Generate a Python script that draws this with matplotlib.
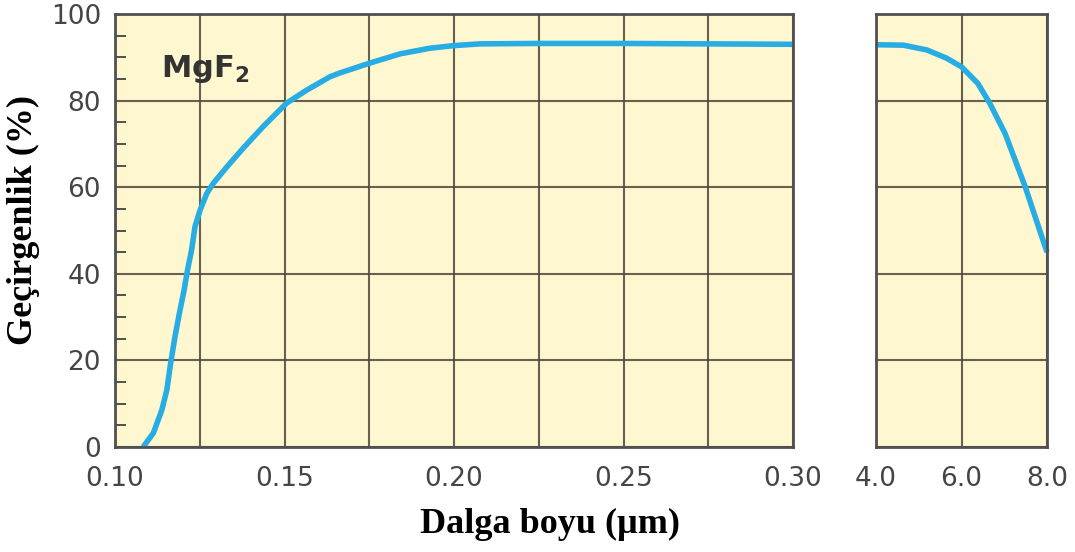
import matplotlib
matplotlib.use('Agg')
import matplotlib.pyplot as plt
import numpy as np

# MgF2 transmission
uv_wl = [0.1083, 0.1113, 0.1138, 0.1153, 0.1164, 0.1177, 0.1190, 0.1204, 0.1214,
         0.1226, 0.1236, 0.1251, 0.1271, 0.1290, 0.1330, 0.1378, 0.1437, 0.1506,
         0.1565, 0.1634, 0.1664, 0.1749, 0.1841, 0.1929, 0.20, 0.2077, 0.225, 0.25,
         0.275, 0.30]
uv_T = [0.0, 3.2, 8.5, 13.2, 19.3, 25.5, 30.9, 36.3, 40.9,
        45.5, 50.9, 54.7, 58.6, 60.9, 64.7, 69.0, 74.0, 79.4,
        82.4, 85.5, 86.4, 88.6, 90.8, 92.1, 92.7, 93.1, 93.2, 93.2,
        93.1, 93.0]

ir_wl = [4.0, 4.64, 5.19, 5.65, 6.0, 6.38, 6.66, 7.02, 7.49, 7.80, 8.0]
ir_T = [92.9, 92.8, 91.7, 89.8, 87.8, 84.0, 79.4, 72.4, 60.1, 50.9, 45.0]

uv_grid = [0.10, 0.125, 0.15, 0.175, 0.20, 0.225, 0.25, 0.275, 0.30]
uv_ticklabels = ['0.10', '', '0.15', '', '0.20', '', '0.25', '', '0.30']
ir_ticks = [4.0, 6.0, 8.0]
ir_ticklabels = ['4.0', '6.0', '8.0']
y_ticks = [0, 20, 40, 60, 80, 100]

bg = '#FEF7D0'
line_c = '#27ADE4'
grid_c = '#4d4838'
spine_c = '#505050'
lab_c = '#454545'

fig = plt.figure(figsize=(10.75, 5.52), dpi=100)
W, H = 1075, 552
ax1 = fig.add_axes([115 / W, 1 - 447 / H, (793 - 115) / W, (447 - 14) / H])
ax2 = fig.add_axes([876 / W, 1 - 447 / H, (1047 - 876) / W, (447 - 14) / H])

for ax in (ax1, ax2):
    ax.set_facecolor(bg)
    ax.set_ylim(0, 100)
    for s in ax.spines.values():
        s.set_color(spine_c)
        s.set_linewidth(2.0)
    ax.grid(True, which='major', color=grid_c, linewidth=1.5, alpha=0.85)
    ax.set_axisbelow(True)

# left panel
ax1.set_xlim(0.10, 0.30)
ax1.set_xticks(uv_grid)
ax1.set_xticklabels(uv_ticklabels)
ax1.set_yticks(y_ticks)
ax1.set_yticks(np.arange(0, 101, 5), minor=True)
ax1.tick_params(axis='x', length=0, pad=14, labelsize=19, labelcolor=lab_c)
ax1.tick_params(axis='y', which='major', length=0, pad=10, labelsize=19, labelcolor=lab_c)
ax1.tick_params(axis='y', which='minor', direction='in', length=8, width=1.4, color=spine_c)
ax1.plot(uv_wl, uv_T, color=line_c, linewidth=4.0, solid_capstyle='butt',
         solid_joinstyle='round', clip_on=False)
ax1.text(0.1135, 87.3, r'$\mathbf{MgF_2}$', fontsize=22, color='#333333', va='center')

# right panel
ax2.set_xlim(4.0, 8.0)
ax2.set_xticks(ir_ticks)
ax2.set_xticklabels(ir_ticklabels)
ax2.set_yticks(y_ticks)
ax2.set_yticklabels([])
ax2.tick_params(axis='x', length=0, pad=14, labelsize=19, labelcolor=lab_c)
ax2.tick_params(axis='y', length=0)
ax2.plot(ir_wl, ir_T, color=line_c, linewidth=4.0, solid_capstyle='butt',
         solid_joinstyle='round', clip_on=False)

fig.text(23 / W, 1 - 220 / H, 'Geçirgenlik (%)', rotation=90, ha='center', va='center',
         family='Liberation Serif', fontweight='bold', fontsize=26)
fig.text(550 / W, 1 - 524 / H, 'Dalga boyu (µm)', ha='center', va='center',
         family='Liberation Serif', fontweight='bold', fontsize=26)

fig.savefig('out.png', dpi=100, facecolor='white')
